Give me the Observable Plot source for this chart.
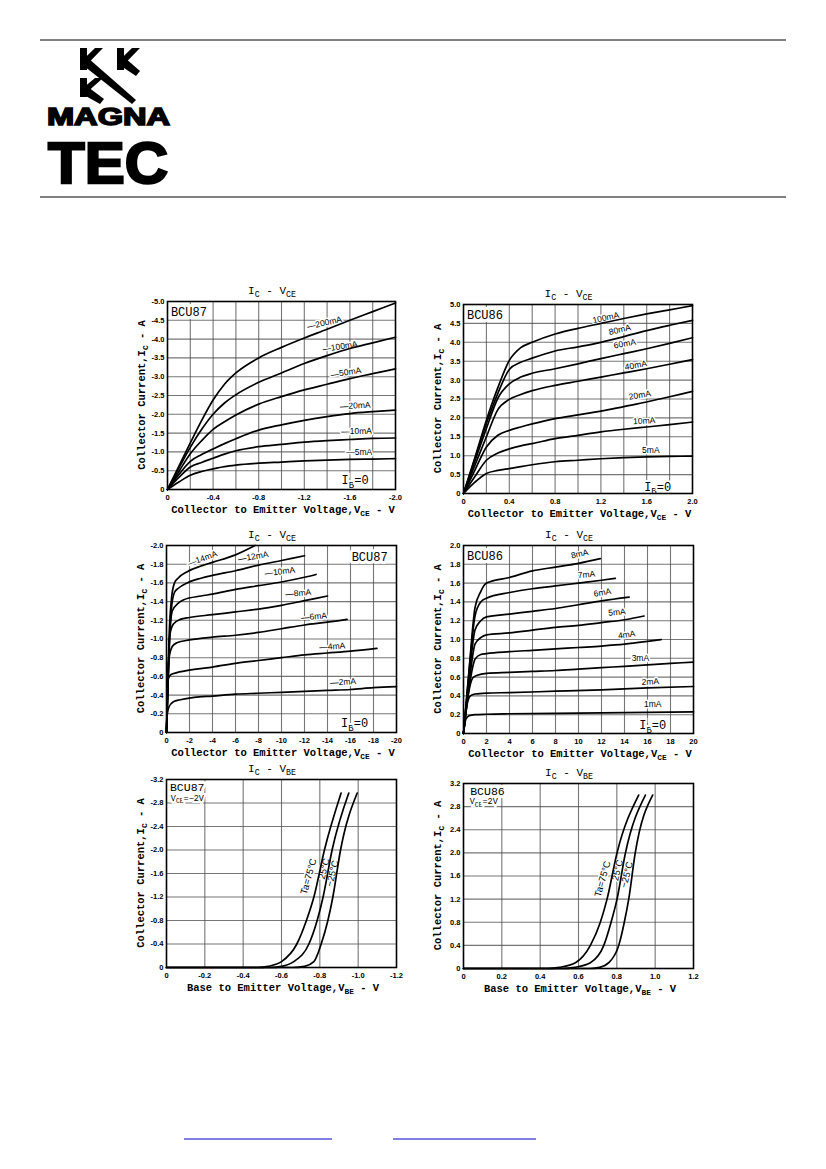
<!DOCTYPE html>
<html><head><meta charset="utf-8">
<script src="https://cdn.jsdelivr.net/npm/d3@7"></script>
<script src="https://cdn.jsdelivr.net/npm/@observablehq/plot@0.6"></script>
<style>
body{margin:0;background:#fff;}
#page{position:relative;width:826px;height:1169px;overflow:hidden;background:#fff;}
#page svg{position:absolute;}
</style></head><body><div id="page"></div>
<script>
// ---------- Chart 1: BCU87 IC - VCE (0 … -2 V) ----------
const c1_vce = [0,-0.1,-0.2,-0.3,-0.4,-0.5,-0.6,-0.8,-1.0,-1.2,-1.4,-1.6,-1.8,-2.0];
const c1_ic_200mA = [0,-0.62,-1.24,-1.84,-2.38,-2.8,-3.1,-3.5,-3.78,-4.03,-4.26,-4.5,-4.73,-4.96];
const c1_ic_100mA = [0,-0.57,-1.12,-1.6,-2.0,-2.3,-2.52,-2.85,-3.1,-3.35,-3.56,-3.75,-3.9,-4.05];
const c1_ic_50mA  = [0,-0.48,-0.95,-1.3,-1.6,-1.8,-1.98,-2.27,-2.47,-2.65,-2.8,-2.95,-3.08,-3.21];
const c1_ic_20mA  = [0,-0.4,-0.75,-0.93,-1.08,-1.22,-1.35,-1.58,-1.72,-1.84,-1.94,-2.02,-2.07,-2.11];
const c1_ic_10mA  = [0,-0.32,-0.6,-0.72,-0.83,-0.94,-1.03,-1.14,-1.2,-1.26,-1.3,-1.33,-1.36,-1.37];
const c1_ic_5mA   = [0,-0.2,-0.38,-0.48,-0.55,-0.61,-0.65,-0.7,-0.73,-0.76,-0.78,-0.8,-0.81,-0.82];
const c1_xTicks = [0,-0.4,-0.8,-1.2,-1.6,-2.0];
const c1_xGrid = [-0.2,-0.4,-0.6,-0.8,-1.0,-1.2,-1.4,-1.6,-1.8];
const c1_yTicks = [0,-0.5,-1.0,-1.5,-2.0,-2.5,-3.0,-3.5,-4.0,-4.5,-5.0];
const c1_labels = [
  {text:"—200mA", x:-1.377, y:-4.43, r:-13},
  {text:"—100mA", x:-1.513, y:-3.80, r:-9},
  {text:"—50mA",  x:-1.565, y:-3.11, r:-9},
  {text:"—20mA",  x:-1.646, y:-2.23, r:-3},
  {text:"—10mA",  x:-1.658, y:-1.55, r:-1},
  {text:"—5mA",   x:-1.681, y:-0.98, r:0}
];

// ---------- Chart 2: BCU86 IC - VCE (0 … 2 V) ----------
const c2_vce = [0,0.1,0.2,0.3,0.4,0.5,0.6,0.8,1.0,1.2,1.4,1.6,1.8,2.0];
const c2_ic_100mA = [0,0.95,1.94,2.8,3.52,3.86,4.0,4.22,4.37,4.5,4.63,4.75,4.86,4.97];
const c2_ic_80mA  = [0,0.92,1.85,2.65,3.28,3.47,3.58,3.77,3.88,4.0,4.15,4.31,4.45,4.58];
const c2_ic_60mA  = [0,0.86,1.72,2.52,2.9,3.08,3.18,3.3,3.43,3.57,3.7,3.83,3.97,4.12];
const c2_ic_40mA  = [0,0.75,1.5,2.22,2.49,2.62,2.72,2.86,2.97,3.08,3.19,3.3,3.42,3.54];
const c2_ic_20mA  = [0,0.62,1.23,1.54,1.67,1.76,1.84,1.98,2.08,2.18,2.3,2.42,2.56,2.7];
const c2_ic_10mA  = [0,0.45,0.88,1.07,1.18,1.26,1.32,1.45,1.54,1.63,1.7,1.76,1.82,1.89];
const c2_ic_5mA   = [0,0.3,0.53,0.61,0.66,0.71,0.76,0.84,0.88,0.92,0.95,0.97,0.98,0.99];
const c2_xTicks = [0,0.4,0.8,1.2,1.6,2.0];
const c2_xGrid = [0.2,0.4,0.6,0.8,1.0,1.2,1.4,1.6,1.8];
const c2_yTicks = [0,0.5,1.0,1.5,2.0,2.5,3.0,3.5,4.0,4.5,5.0];
const c2_labels = [
  {text:"100mA", x:1.243, y:4.65, r:-12},
  {text:"80mA",  x:1.365, y:4.33, r:-13},
  {text:"60mA",  x:1.409, y:3.96, r:-10},
  {text:"40mA",  x:1.505, y:3.39, r:-10},
  {text:"20mA",  x:1.54,  y:2.6,  r:-10},
  {text:"10mA",  x:1.578, y:1.92, r:-3},
  {text:"5mA",   x:1.636, y:1.14, r:0}
];

// ---------- Chart 3: BCU87 IC - VCE (0 … -20 V) ----------
const c3_vce_14mA = [0,-0.1,-0.25,-0.45,-0.7,-1,-1.8,-3,-4,-6,-7.7];
const c3_ic_14mA  = [0,-0.5,-1.1,-1.45,-1.6,-1.65,-1.72,-1.78,-1.82,-1.9,-2.0];
const c3_vce_12mA = [0,-0.1,-0.25,-0.45,-0.7,-1,-1.8,-3,-4,-6,-8,-10,-12];
const c3_ic_12mA  = [0,-0.45,-1.0,-1.35,-1.5,-1.54,-1.6,-1.65,-1.68,-1.73,-1.79,-1.84,-1.89];
const c3_vce_10mA = [0,-0.1,-0.25,-0.5,-1,-1.5,-3,-4,-6,-8,-10,-12,-13];
const c3_ic_10mA  = [0,-0.4,-0.95,-1.3,-1.38,-1.42,-1.46,-1.48,-1.53,-1.57,-1.61,-1.66,-1.69];
const c3_vce_8mA  = [0,-0.1,-0.3,-0.6,-1.2,-2,-4,-6,-8,-10,-12,-14];
const c3_ic_8mA   = [0,-0.4,-1.05,-1.16,-1.21,-1.23,-1.26,-1.29,-1.32,-1.36,-1.41,-1.46];
const c3_vce_6mA  = [0,-0.1,-0.2,-0.5,-0.9,-2,-4,-6,-8,-10,-12,-14,-15.7];
const c3_ic_6mA   = [0,-0.4,-0.78,-0.92,-0.96,-0.99,-1.02,-1.04,-1.07,-1.11,-1.15,-1.18,-1.21];
const c3_vce_4mA  = [0,-0.05,-0.1,-0.4,-0.9,-2.4,-4,-6,-8,-10,-12,-14,-16,-18.3];
const c3_ic_4mA   = [0,-0.3,-0.55,-0.62,-0.64,-0.675,-0.7,-0.74,-0.77,-0.8,-0.83,-0.85,-0.87,-0.9];
const c3_vce_2mA  = [0,-0.05,-0.2,-0.6,-1.2,-2.4,-4,-6,-8,-10,-12,-14,-16,-18,-20];
const c3_ic_2mA   = [0,-0.17,-0.27,-0.33,-0.35,-0.375,-0.39,-0.41,-0.42,-0.43,-0.44,-0.45,-0.46,-0.48,-0.49];
const c3_xTicks = [0,-2,-4,-6,-8,-10,-12,-14,-16,-18,-20];
const c3_yTicks = [0,-0.2,-0.4,-0.6,-0.8,-1.0,-1.2,-1.4,-1.6,-1.8,-2.0];
const c3_labels = [
  {text:"—14mA", x:-3.12,  y:-1.86, r:-20},
  {text:"—12mA", x:-7.54,  y:-1.88, r:-10},
  {text:"—10mA", x:-9.86,  y:-1.72, r:-7},
  {text:"—8mA",  x:-11.45, y:-1.49, r:-5},
  {text:"—6mA",  x:-12.83, y:-1.24, r:-5},
  {text:"—4mA",  x:-14.42, y:-0.92, r:-4},
  {text:"—2mA",  x:-15.35, y:-0.54, r:-3}
];

// ---------- Chart 4: BCU86 IC - VCE (0 … 20 V) ----------
const c4_vce_8mA = [0,0.5,1,1.5,2,4,6,8,10,11.9];
const c4_ic_8mA  = [0,0.7,1.34,1.51,1.6,1.66,1.73,1.77,1.81,1.86];
const c4_vce_7mA = [0,0.5,1,1.5,2,4,6,8,10,12,13.2];
const c4_ic_7mA  = [0,0.68,1.25,1.4,1.44,1.5,1.54,1.57,1.6,1.63,1.65];
const c4_vce_6mA = [0,0.5,1,1.5,2,4,6,8,10,12,14.4];
const c4_ic_6mA  = [0,0.62,1.1,1.2,1.24,1.27,1.3,1.33,1.37,1.41,1.45];
const c4_vce_5mA = [0,0.5,1,1.5,2,4,6,8,10,12,14,15.7];
const c4_ic_5mA  = [0,0.55,0.95,1.02,1.05,1.07,1.1,1.13,1.15,1.18,1.21,1.25];
const c4_vce_4mA = [0,0.5,1,1.5,2,4,6,8,10,12,14,16,17.2];
const c4_ic_4mA  = [0,0.5,0.79,0.84,0.85,0.87,0.885,0.9,0.915,0.93,0.95,0.98,1.0];
const c4_vce_3mA = [0,0.4,0.8,1.2,2,4,6,8,10,12,14,16,18,20];
const c4_ic_3mA  = [0,0.4,0.59,0.62,0.64,0.65,0.66,0.67,0.685,0.7,0.715,0.73,0.745,0.76];
const c4_vce_2mA = [0,0.3,0.6,1,2,4,8,12,16,20];
const c4_ic_2mA  = [0,0.3,0.4,0.42,0.43,0.435,0.45,0.465,0.485,0.5];
const c4_vce_1mA = [0,0.2,0.5,1,2,4,8,12,16,20];
const c4_ic_1mA  = [0,0.15,0.19,0.2,0.205,0.21,0.215,0.22,0.225,0.23];
const c4_xTicks = [0,2,4,6,8,10,12,14,16,18,20];
const c4_yTicks = [0,0.2,0.4,0.6,0.8,1.0,1.2,1.4,1.6,1.8,2.0];
const c4_labels = [
  {text:"8mA", x:10.09, y:1.91, r:-13},
  {text:"7mA", x:10.69, y:1.69, r:-5},
  {text:"6mA", x:12.08, y:1.5,  r:-10},
  {text:"5mA", x:13.35, y:1.29, r:-5},
  {text:"4mA", x:14.19, y:1.05, r:-8},
  {text:"3mA", x:15.38, y:0.8,  r:0},
  {text:"2mA", x:16.24, y:0.55, r:-3},
  {text:"1mA", x:16.45, y:0.31, r:0}
];

// ---------- Chart 5: BCU87 IC - VBE (VCE = -2 V) ----------
const c5_ic       = [0,0,-0.02,-0.1,-0.4,-0.8,-1.2,-2.0,-2.97];
const c5_vbe_75C  = [0,-0.48,-0.53,-0.6,-0.68,-0.73,-0.769,-0.824,-0.911];
const c5_vbe_25C  = [0,-0.55,-0.6,-0.664,-0.743,-0.786,-0.817,-0.864,-0.951];
const c5_vbe_m25C = [0,-0.66,-0.72,-0.769,-0.807,-0.842,-0.868,-0.908,-0.995];
const c5_xTicks = [0,-0.2,-0.4,-0.6,-0.8,-1.0,-1.2];
const c5_yTicks = [0,-0.4,-0.8,-1.2,-1.6,-2.0,-2.4,-2.8,-3.2];
const c5_labels = [
  {text:"Ta=75°C", x:-0.742, y:-1.55, r:-74},
  {text:"25°C",    x:-0.822, y:-1.68, r:-76},
  {text:"−25°C",   x:-0.866, y:-1.60, r:-76}
];

// ---------- Chart 6: BCU86 IC - VBE (VCE = 2 V) ----------
const c6_ic       = [0,0,0.02,0.1,0.4,0.8,1.2,2.0,3.0];
const c6_vbe_75C  = [0,0.44,0.5,0.584,0.662,0.714,0.749,0.801,0.914];
const c6_vbe_25C  = [0,0.52,0.58,0.662,0.732,0.77,0.801,0.845,0.949];
const c6_vbe_m25C = [0,0.66,0.71,0.758,0.81,0.839,0.862,0.896,0.987];
const c6_xTicks = [0,0.2,0.4,0.6,0.8,1.0,1.2];
const c6_yTicks = [0,0.4,0.8,1.2,1.6,2.0,2.4,2.8,3.2];
const c6_labels = [
  {text:"Ta=75°C", x:0.726, y:1.55, r:-74},
  {text:"25°C",    x:0.804, y:1.70, r:-76},
  {text:"−25°C",   x:0.852, y:1.62, r:-76}
];

// ---------- helpers ----------
const fmt1 = v => v === 0 ? "0" : (v < 0 ? "-" : "") + Math.abs(v).toFixed(1);
const fmt0 = v => v === 0 ? "0" : (v < 0 ? "-" : "") + Math.abs(v);
const page = d3.select("#page");

function rich(sel, x, y, parts, fs, opts = {}) {
  const t = sel.append("text")
    .attr("font-size", fs)
    .attr("font-family", opts.family || "Liberation Mono")
    .attr("font-weight", opts.weight || "normal")
    .attr("text-anchor", opts.anchor || "middle")
    .attr("fill", "black");
  if (opts.rotate) t.attr("transform", `translate(${x},${y}) rotate(${opts.rotate})`);
  else t.attr("x", x).attr("y", y);
  if (opts.halo) t.attr("stroke", "white").attr("stroke-width", opts.halo).attr("paint-order", "stroke");
  let shift = 0;
  parts.forEach(([s, sub]) => {
    const ts = t.append("tspan").text(s);
    if (sub) { ts.attr("font-size", fs * 0.75).attr("dy", fs * 0.3 - shift); shift = fs * 0.3; }
    else { ts.attr("dy", -shift); shift = 0; }
  });
  return t;
}

function curve(xs, ys) { return xs.map((v, i) => ({x: v, y: ys[i]})); }

function chart(cfg) {
  const ML = 62, MR = 14, MT = 30, MB = 32;
  const w = cfg.w, h = cfg.h;
  const gridStyle = {stroke: "#4a4a4a", strokeOpacity: 0.75, strokeWidth: 1.1};
  const tickFont = {fontSize: 7.5, fontWeight: "bold", fontFamily: "Liberation Sans"};
  const marks = [
    Plot.gridX(cfg.xGrid, gridStyle),
    Plot.gridY(cfg.yGrid, gridStyle),
    Plot.axisX(cfg.xTicks, {tickSize: 0, tickPadding: 5, tickFormat: cfg.xFmt, label: null, ...tickFont}),
    Plot.axisY(cfg.yTicks, {tickSize: 0, tickPadding: 3, tickFormat: cfg.yFmt, label: null, ...tickFont}),
    Plot.text(cfg.labels, {x: "x", y: "y", text: "text", rotate: "r",
      fontSize: cfg.labelSize || 8.5, fontFamily: "Liberation Sans", fill: "black",
      stroke: "white", strokeWidth: 3, paintOrder: "stroke"}),
    Plot.text([cfg.device], {x: "x", y: "y", text: "text", textAnchor: "start",
      fontSize: cfg.deviceSize || 12, fontFamily: "Liberation Mono", fill: "black",
      stroke: "white", strokeWidth: 6, paintOrder: "stroke"}),
    ...cfg.curves.map(c => Plot.line(c, {x: "x", y: "y", curve: "monotone-x", stroke: "black", strokeWidth: 1.7})),
    Plot.frame({stroke: "black", strokeWidth: 1.6})
  ];
  const svg = Plot.plot({
    width: ML + w + MR, height: MT + h + MB,
    marginLeft: ML, marginRight: MR, marginTop: MT, marginBottom: MB,
    x: {domain: cfg.xDomain}, y: {domain: cfg.yDomain},
    style: {background: "transparent", overflow: "visible"},
    marks
  });
  svg.style.left = (cfg.left - ML) + "px";
  svg.style.top = (cfg.top - MT) + "px";
  const sx = svg.scale("x"), sy = svg.scale("y");
  const s = d3.select(svg);
  rich(s, ML + w / 2 - 9, MT - 7, cfg.title, 11);
  rich(s, ML + w / 2 + 2, MT + h + 24, cfg.xLabel, 10.5, {weight: "bold"});
  rich(s, ML - 22, MT + h / 2, [["Collector Current,I"], ["C", 1], [" - A"]], 10.5, {weight: "bold", rotate: -90});
  (cfg.rich || []).forEach(r => rich(s, sx.apply(r.x), sy.apply(r.y), r.parts, r.fs,
    {anchor: r.anchor, halo: 4, family: r.family}));
  s.selectAll('[aria-label="line"]').raise();
  s.selectAll('[aria-label="frame"]').raise();
  page.node().appendChild(svg);
}

// ---------- page header / logo ----------
const hdr = page.append("svg").attr("width", 826).attr("height", 1169).style("left", "0px").style("top", "0px");
hdr.append("line").attr("x1", 40).attr("x2", 786).attr("y1", 40).attr("y2", 40).attr("stroke", "black").attr("stroke-width", 1);
hdr.append("line").attr("x1", 40).attr("x2", 786).attr("y1", 197).attr("y2", 197).attr("stroke", "black").attr("stroke-width", 1);
const logo = hdr.append("g").attr("fill", "black");
// legs (one long diagonal, two short)
logo.append("polygon").attr("points", "84,58 88,58 136,100 132,104 84,66");
logo.append("polygon").attr("points", "121,58 125,58 140,71 136,76 121,66");
logo.append("polygon").attr("points", "84,87 88,87 104,99 100,104 84,95");
// vertical bars + upper arms of the three arrowheads
[[80, 48, 22], [117, 48, 22], [80, 78, 19]].forEach(([x, y, hh]) => {
  logo.append("rect").attr("x", x).attr("y", y).attr("width", 7).attr("height", hh);
  logo.append("polygon").attr("points",
    `${x + 6},${y + hh * 0.4} ${x + 15},${y} ${x + 23},${y} ${x + 6},${y + hh * 0.8}`);
});
hdr.append("text").attr("x", 47).attr("y", 125).attr("font-family", "Liberation Sans").attr("font-weight", "bold")
  .attr("font-size", 23).attr("textLength", 123).attr("lengthAdjust", "spacingAndGlyphs")
  .attr("stroke", "black").attr("stroke-width", 1.5).text("MAGNA");
hdr.append("text").attr("x", 48).attr("y", 183).attr("font-family", "Liberation Sans").attr("font-weight", "bold")
  .attr("font-size", 58).attr("textLength", 120).attr("lengthAdjust", "spacingAndGlyphs")
  .attr("stroke", "black").attr("stroke-width", 2.4).text("TEC");
hdr.append("line").attr("x1", 184).attr("x2", 332).attr("y1", 1139).attr("y2", 1139).attr("stroke", "#0000cc").attr("stroke-width", 1);
hdr.append("line").attr("x1", 393).attr("x2", 536).attr("y1", 1139).attr("y2", 1139).attr("stroke", "#0000cc").attr("stroke-width", 1);

const titleCE = [["I"], ["C", 1], [" - V"], ["CE", 1]];
const titleBE = [["I"], ["C", 1], [" - V"], ["BE", 1]];
const xlabCE = [["Collector to Emitter Voltage,V"], ["CE", 1], [" - V"]];
const xlabBE = [["Base to Emitter Voltage,V"], ["BE", 1], [" - V"]];
const ib0 = [["I"], ["B", 1], ["=0"]];

chart({
  left: 167, top: 301, w: 228, h: 188,
  xDomain: [0, -2], yDomain: [0, -5],
  xGrid: c1_xGrid, yGrid: c1_yTicks.slice(1, -1), xTicks: c1_xTicks, yTicks: c1_yTicks,
  xFmt: fmt1, yFmt: fmt1, title: titleCE, xLabel: xlabCE,
  curves: [c1_ic_200mA, c1_ic_100mA, c1_ic_50mA, c1_ic_20mA, c1_ic_10mA, c1_ic_5mA].map(ys => curve(c1_vce, ys)),
  labels: c1_labels,
  device: {text: "BCU87", x: -0.03, y: -4.72},
  rich: [{parts: ib0, x: -1.65, y: -0.12, fs: 12, anchor: "middle"}]
});

chart({
  left: 463, top: 304, w: 229, h: 189,
  xDomain: [0, 2], yDomain: [0, 5],
  xGrid: c2_xGrid, yGrid: c2_yTicks.slice(1, -1), xTicks: c2_xTicks, yTicks: c2_yTicks,
  xFmt: fmt1, yFmt: fmt1, title: titleCE, xLabel: xlabCE,
  curves: [c2_ic_100mA, c2_ic_80mA, c2_ic_60mA, c2_ic_40mA, c2_ic_20mA, c2_ic_10mA, c2_ic_5mA].map(ys => curve(c2_vce, ys)),
  labels: c2_labels,
  device: {text: "BCU86", x: 0.03, y: 4.72},
  rich: [{parts: ib0, x: 1.7, y: 0.06, fs: 12, anchor: "middle"}]
});

chart({
  left: 166, top: 545, w: 230, h: 187,
  xDomain: [0, -20], yDomain: [0, -2],
  xGrid: c3_xTicks.slice(1, -1), yGrid: c3_yTicks.slice(1, -1), xTicks: c3_xTicks, yTicks: c3_yTicks,
  xFmt: fmt0, yFmt: fmt1, title: titleCE, xLabel: xlabCE,
  curves: [
    curve(c3_vce_14mA, c3_ic_14mA), curve(c3_vce_12mA, c3_ic_12mA), curve(c3_vce_10mA, c3_ic_10mA),
    curve(c3_vce_8mA, c3_ic_8mA), curve(c3_vce_6mA, c3_ic_6mA), curve(c3_vce_4mA, c3_ic_4mA),
    curve(c3_vce_2mA, c3_ic_2mA)
  ],
  labels: c3_labels,
  device: {text: "BCU87", x: -16.1, y: -1.88},
  rich: [{parts: ib0, x: -16.4, y: -0.05, fs: 12, anchor: "middle"}]
});

chart({
  left: 463, top: 545, w: 230, h: 188,
  xDomain: [0, 20], yDomain: [0, 2],
  xGrid: c4_xTicks.slice(1, -1), yGrid: c4_yTicks.slice(1, -1), xTicks: c4_xTicks, yTicks: c4_yTicks,
  xFmt: fmt0, yFmt: fmt1, title: titleCE, xLabel: xlabCE,
  curves: [
    curve(c4_vce_8mA, c4_ic_8mA), curve(c4_vce_7mA, c4_ic_7mA), curve(c4_vce_6mA, c4_ic_6mA),
    curve(c4_vce_5mA, c4_ic_5mA), curve(c4_vce_4mA, c4_ic_4mA), curve(c4_vce_3mA, c4_ic_3mA),
    curve(c4_vce_2mA, c4_ic_2mA), curve(c4_vce_1mA, c4_ic_1mA)
  ],
  labels: c4_labels,
  device: {text: "BCU86", x: 0.3, y: 1.89},
  rich: [{parts: ib0, x: 16.5, y: 0.04, fs: 12, anchor: "middle"}]
});

chart({
  left: 166, top: 779, w: 230, h: 188,
  xDomain: [0, -1.2], yDomain: [0, -3.2],
  xGrid: c5_xTicks.slice(1, -1), yGrid: c5_yTicks.slice(1, -1), xTicks: c5_xTicks, yTicks: c5_yTicks,
  xFmt: fmt1, yFmt: fmt1, title: titleBE, xLabel: xlabBE,
  curves: [c5_vbe_75C, c5_vbe_25C, c5_vbe_m25C].map(xs => curve(xs, c5_ic)),
  labels: c5_labels, labelSize: 9.5,
  device: {text: "BCU87", x: -0.018, y: -3.07}, deviceSize: 11.5,
  rich: [{parts: [["V"], ["CE", 1], ["=−2V"]], x: -0.025, y: -2.83, fs: 8.5, anchor: "start"}]
});

chart({
  left: 463, top: 783, w: 230, h: 185,
  xDomain: [0, 1.2], yDomain: [0, 3.2],
  xGrid: c6_xTicks.slice(1, -1), yGrid: c6_yTicks.slice(1, -1), xTicks: c6_xTicks, yTicks: c6_yTicks,
  xFmt: fmt1, yFmt: fmt1, title: titleBE, xLabel: xlabBE,
  curves: [c6_vbe_75C, c6_vbe_25C, c6_vbe_m25C].map(xs => curve(xs, c6_ic)),
  labels: c6_labels, labelSize: 9.5,
  device: {text: "BCU86", x: 0.035, y: 3.07}, deviceSize: 11.5,
  rich: [{parts: [["V"], ["CE", 1], ["=2V"]], x: 0.035, y: 2.83, fs: 8.5, anchor: "start"}]
});
</script></body></html>
